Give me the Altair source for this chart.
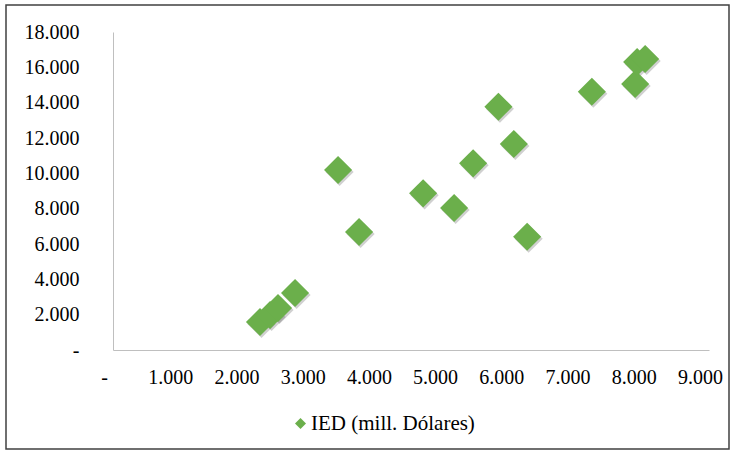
import altair as alt
import pandas as pd

series_name = "IED (mill. Dólares)"
x_values = [2220, 2372, 2492, 2749, 3399, 3716, 4683, 5151, 5438, 5820, 6053, 6254, 7231, 7885, 7915, 8036]
y_values = [1585, 1981, 2377, 3226, 10190, 6678, 8868, 8036, 10566, 13769, 11658, 6412, 14618, 15054, 16299, 16469]
x_ticks = [0, 1000, 2000, 3000, 4000, 5000, 6000, 7000, 8000, 9000]
y_ticks = [0, 2000, 4000, 6000, 8000, 10000, 12000, 14000, 16000, 18000]

df = pd.DataFrame({"x": x_values, "y": y_values, "serie": [series_name] * len(x_values)})

GREEN = "#6BAF4B"
FONT = "Times New Roman, Liberation Serif, serif"
W, H = 596, 318
PAD = {"left": 113, "top": 32, "right": 25, "bottom": 102}

lab_x = "datum.value == 0 ? '-' : replace(format(datum.value, ',d'), ',', '.')"
lab_y = "datum.value == 0 ? '-\u2007' : replace(format(datum.value, ',d'), ',', '.')"

xenc = alt.X("x:Q", scale=alt.Scale(domain=[0, 9000], nice=False),
             axis=alt.Axis(values=x_ticks, labelExpr=lab_x, title=None, labelOffset=-9,
                           labelFlush=False, labelOverlap=False,
                           labelPadding=17, domainColor="#bfbfbf", ticks=False, grid=False))
yenc = alt.Y("y:Q", scale=alt.Scale(domain=[0, 18000], nice=False),
             axis=alt.Axis(values=y_ticks, labelExpr=lab_y, title=None,
                           labelFlush=False, labelOverlap=False,
                           labelPadding=34, domainColor="#bfbfbf", ticks=False, grid=False))

base = alt.Chart(df)

shadow = base.mark_point(shape="diamond", size=790, filled=True, color="#555555",
                         opacity=0.28, xOffset=1.5, yOffset=2).encode(x=xenc, y=yenc)

points = base.mark_point(shape="diamond", size=790, filled=True, opacity=1).encode(
    x=xenc, y=yenc,
    color=alt.Color("serie:N", scale=alt.Scale(domain=[series_name], range=[GREEN]),
                    legend=alt.Legend(title=None, orient="none", legendX=177, legendY=381,
                                      symbolType="diamond", symbolSize=121,
                                      labelFont=FONT, labelFontSize=21, labelColor="#000000",
                                      labelLimit=0,
                                      symbolStrokeWidth=0, labelOffset=0)),
)

frame = alt.Chart(pd.DataFrame({"a": [0]})).mark_rect(
    filled=False, stroke="#404040", strokeWidth=1.5
).encode(
    x=alt.value(-107), x2=alt.value(616), y=alt.value(-27), y2=alt.value(417)
)

chart = alt.layer(frame, shadow, points).properties(
    width=W, height=H,
    autosize=alt.AutoSizeParams(type="none"),
    padding=PAD,
).configure_view(stroke=None).configure_axis(
    labelFont=FONT, labelFontSize=20, labelColor="#000000", domainWidth=1
)

chart.save("out.html", embed_options={"renderer": "svg", "actions": False})
